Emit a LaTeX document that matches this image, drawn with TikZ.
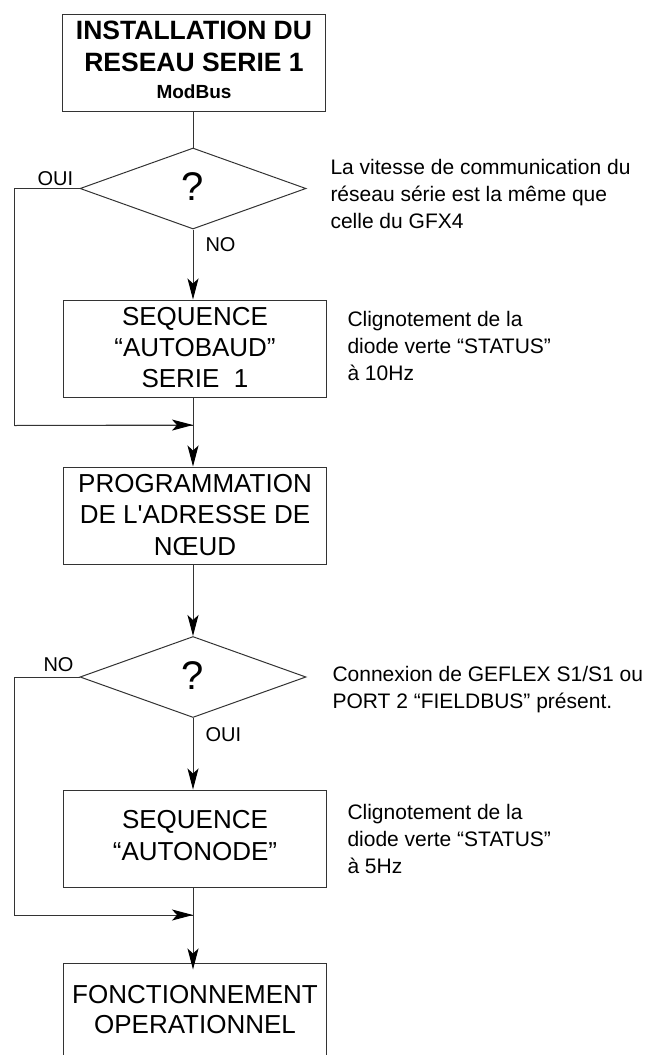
\documentclass[tikz,border=0pt]{standalone}
\usepackage{fontspec}
\setmainfont{Liberation Sans}
% same family without TeX ligatures, so that ' stays a straight apostrophe
\newfontfamily\plainsans{Liberation Sans}
\usetikzlibrary{arrows.meta,shapes.geometric}
\begin{document}
\begin{tikzpicture}[x=1pt,y=-1pt,
  line width=1pt, draw=black!80,
  stepbox/.style={draw, rectangle, minimum width=263pt, align=center,
    inner sep=0pt, font=\fontsize{26}{31}\selectfont},
  decision/.style={draw, diamond, minimum width=226pt, minimum height=81pt,
    inner sep=0pt, aspect=2.8, font=\fontsize{40}{40}\selectfont},
  note/.style={anchor=base west, align=left, font=\fontsize{21}{27}\selectfont, inner sep=0pt},
  tag/.style={anchor=base west, inner sep=0pt, font=\fontsize{20}{20}\selectfont},
  arr/.style={-{Stealth[length=21pt,width=11pt,inset=5pt,fill=black,color=black]}},
]
\useasboundingbox (0,0) rectangle (647,1055);
\clip (0,0) rectangle (647,1055);

% process boxes
\node[stepbox, minimum height=97pt] (install) at (194,62.5) {};
\node[anchor=base, font=\bfseries\fontsize{26.5}{31}\selectfont] (t1) at (194,39) {INSTALLATION DU};
\node[anchor=base, font=\bfseries\fontsize{26.5}{31}\selectfont] (t2) at (194,71) {RESEAU SERIE 1};
\node[anchor=base, font=\bfseries\fontsize{19}{20}\selectfont] (t3) at (194,98) {ModBus};

\node[decision] (q1) at (193,188.5) {};
\node[font=\fontsize{40}{40}\selectfont, anchor=base] (q1m) at (193,200) {?};

\node[stepbox, minimum height=97pt] (autobaud) at (195,348.5) {};
\node[anchor=base, font=\fontsize{26}{31}\selectfont] (ab1) at (195,325) {SEQUENCE};
\node[anchor=base, font=\fontsize{26}{31}\selectfont] (ab2) at (195,356) {“AUTOBAUD”};
\node[anchor=base, font=\fontsize{26}{31}\selectfont] (ab3) at (195,387) {SERIE~~1};

\coordinate (j1) at (193,425);

\node[stepbox, minimum height=97pt] (prog) at (195,515.5) {};
\node[anchor=base, font=\fontsize{26}{31}\selectfont] (pg1) at (195,492) {PROGRAMMATION};
\node[anchor=base, font=\plainsans\fontsize{26}{31}\selectfont] (pg2) at (195,523) {DE L'ADRESSE DE};
\node[anchor=base, font=\fontsize{26}{31}\selectfont] (pg3) at (195,555) {NŒUD};

\node[decision] (q2) at (193,677) {};
\node[font=\fontsize{40}{40}\selectfont, anchor=base] (q2m) at (193,689) {?};

\node[stepbox, minimum height=97pt] (autonode) at (195,838.5) {};
\node[anchor=base, font=\fontsize{26}{31}\selectfont] (an1) at (195,828) {SEQUENCE};
\node[anchor=base, font=\fontsize{26}{31}\selectfont] (an2) at (195,860) {“AUTONODE”};

\coordinate (j2) at (193,915);

\node[stepbox, minimum height=130pt] (run) at (195,1028) {};
\node[anchor=base, font=\fontsize{26}{31}\selectfont] (r1) at (195,1003) {FONCTIONNEMENT};
\node[anchor=base, font=\fontsize{26}{31}\selectfont] (r2) at (195,1033) {OPERATIONNEL};

% branch labels
\node[tag] (oui1) at (37,185) {OUI};
\node[tag] (no1) at (205,251) {NO};
\node[tag] (no2) at (43,671) {NO};
\node[tag] (oui2) at (205,741) {OUI};

% side notes (anchored on the baseline of their last line)
\node[note] (n1) at (330,228) {La vitesse de communication du\\réseau série est la même que\\celle du GFX4};
\node[note] (n2) at (347,380) {Clignotement de la\\diode verte “STATUS”\\à 10Hz};
\node[note] (n3) at (332,708) {Connexion de GEFLEX S1/S1 ou\\PORT 2 “FIELDBUS” présent.};
\node[note] (n4) at (347,873) {Clignotement de la\\diode verte “STATUS”\\à 5Hz};

% connectors
\draw (install.south -| q1.north) -- (q1.north);
\draw[arr] (q1.south) -- (q1.south |- autobaud.north);
\draw (q1.west) -- ++(-65,0) |- (j1);
\draw[arr] (q1.west) ++(-65,237) -- (j1);
\draw (autobaud.south -| j1) -- (j1);
\draw[arr] (j1) -- (j1 |- prog.north);
\draw[arr] (prog.south -| q2.north) -- (q2.north);
\draw[arr] (q2.south) -- (q2.south |- autonode.north);
\draw (q2.west) -- ++(-65,0) |- (j2);
\draw[arr] (q2.west) ++(-65,238) -- (j2);
\draw (autonode.south -| j2) -- (j2);
\draw[arr] (j2) -- ([yshift=-7pt]j2 |- run.north);
\end{tikzpicture}
\end{document}
